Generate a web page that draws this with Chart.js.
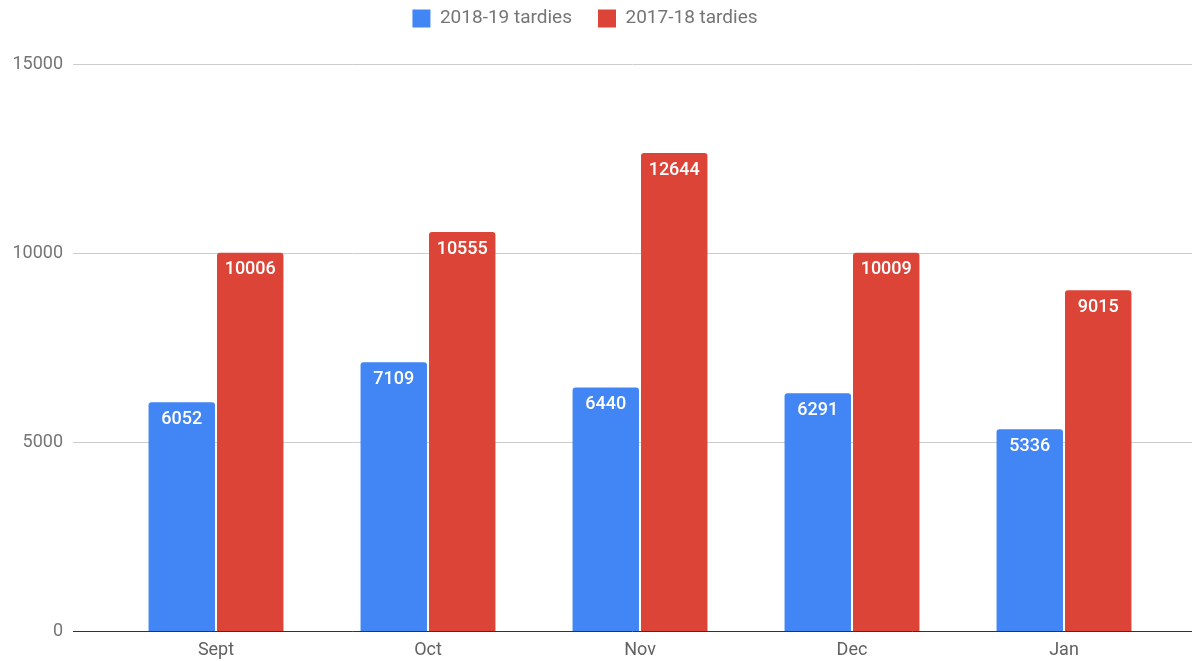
<!DOCTYPE html>
<html>
<head>
<meta charset="utf-8">
<script src="https://cdn.jsdelivr.net/npm/chart.js@4"></script>
<style>
  body { margin: 0; background: #fff; overflow: hidden; }
  canvas { display: block; }
</style>
</head>
<body>
<canvas id="diagram" width="1192" height="661"></canvas>
<script>
// Data
var months = ['Sept', 'Oct', 'Nov', 'Dec', 'Jan'];
var tardies1819 = [6052, 7109, 6440, 6291, 5336];
var tardies1718 = [10006, 10555, 12644, 10009, 9015];
var yTicks = [0, 5000, 10000, 15000];

var blue = '#4285F4', red = '#DB4437';

// Gridlines run wider than the bar area, so draw them here
var gridPlugin = {
    id: 'wideGrid',
    beforeDatasetsDraw: function(chart) {
        var ctx = chart.ctx, y = chart.scales.y;
        ctx.save();
        yTicks.forEach(function(v) {
            var py = Math.round(y.getPixelForValue(v)) + 0.5;
            ctx.beginPath();
            ctx.strokeStyle = v === 0 ? '#333333' : '#cccccc';
            ctx.lineWidth = 1;
            ctx.moveTo(73, py);
            ctx.lineTo(1192, py);
            ctx.stroke();
        });
        ctx.restore();
    }
};

// Value text inside the top of every bar
var labelPlugin = {
    id: 'barValues',
    afterDatasetsDraw: function(chart) {
        var ctx = chart.ctx;
        ctx.save();
        ctx.font = '500 18px Roboto';
        ctx.fillStyle = '#ffffff';
        ctx.textAlign = 'center';
        ctx.textBaseline = 'middle';
        chart.data.datasets.forEach(function(ds, i) {
            chart.getDatasetMeta(i).data.forEach(function(bar, j) {
                ctx.fillText(ds.data[j], bar.x, bar.y + 17);
            });
        });
        ctx.restore();
    }
};

// Legend gets a fixed height so the plot starts lower
var legendSpace = {
    id: 'legendSpace',
    afterInit: function(chart) {
        var lg = chart.legend;
        var fit = lg.fit;
        lg.fit = function() {
            fit.call(this);
            this.height = 81;
        };
    }
};

new Chart(document.getElementById('diagram').getContext('2d'), {
    type: 'bar',
    data: {
        labels: months,
        datasets: [{
            label: '2018-19 tardies',
            data: tardies1819,
            backgroundColor: blue,
            borderRadius: { topLeft: 3, topRight: 3 },
            borderSkipped: 'bottom',
            categoryPercentage: 0.646,
            barPercentage: 0.97
        }, {
            label: '2017-18 tardies',
            data: tardies1718,
            backgroundColor: red,
            borderRadius: { topLeft: 3, topRight: 3 },
            borderSkipped: 'bottom',
            categoryPercentage: 0.646,
            barPercentage: 0.97
        }]
    },
    options: {
        responsive: false,
        animation: false,
        layout: { padding: { top: -17, right: 22, bottom: 0, left: 0 } },
        plugins: {
            tooltip: { enabled: false },
            legend: {
                position: 'top',
                labels: {
                    boxWidth: 18,
                    boxHeight: 18,
                    padding: 26,
                    color: '#757575',
                    font: { family: 'Roboto', size: 19 }
                }
            }
        },
        scales: {
            x: {
                afterFit: function(scale) { scale.height = 30; },
                grid: { display: false, drawTicks: false },
                border: { display: false },
                ticks: {
                    color: '#616161',
                    padding: 9,
                    font: { family: 'Roboto', size: 18 }
                }
            },
            y: {
                min: 0,
                max: 15000,
                afterFit: function(scale) {
                    scale.width = 110;
                    // the wide tick padding should not push the plot edges in
                    scale.paddingTop = 11;
                    scale.paddingBottom = 11;
                },
                afterBuildTicks: function(scale) {
                    scale.ticks = yTicks.map(function(v) { return { value: v }; });
                },
                grid: { display: false, drawTicks: false },
                border: { display: false },
                ticks: {
                    color: '#757575',
                    padding: 47,
                    font: { family: 'Roboto', size: 18 },
                    callback: function(v) { return String(v); }
                }
            }
        }
    },
    plugins: [gridPlugin, labelPlugin, legendSpace]
});
</script>
</body>
</html>
